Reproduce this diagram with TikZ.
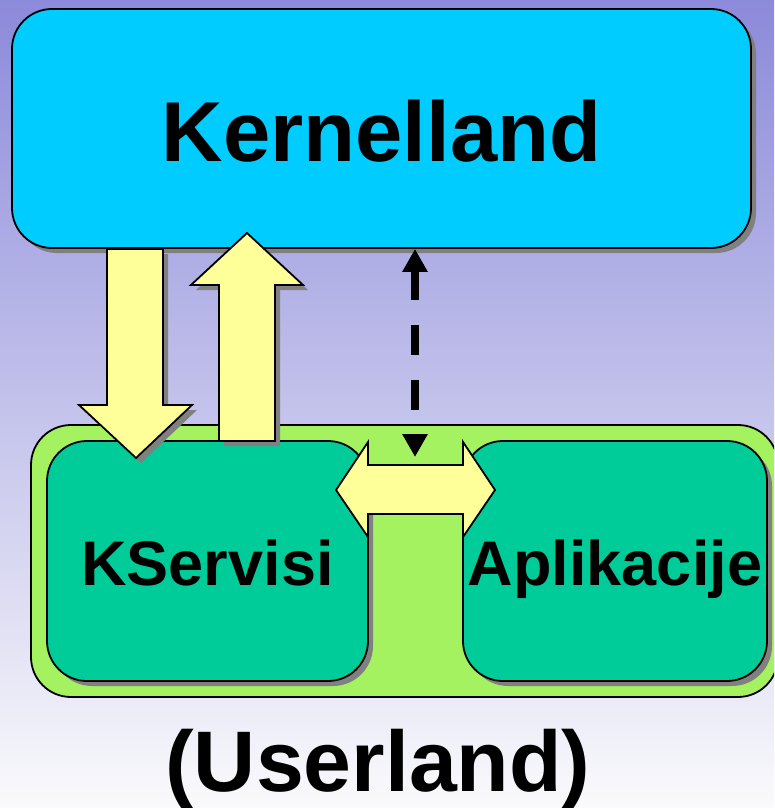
\documentclass[tikz,border=0pt]{standalone}
\usepackage{fontspec}
\setmainfont{Liberation Sans}
\usetikzlibrary{shadows,arrows.meta}

\definecolor{bgtop}{RGB}{140,138,218}
\definecolor{bgmid}{RGB}{214,213,240}
\definecolor{bgbot}{RGB}{250,250,252}
\definecolor{kernelblue}{HTML}{00CCFF}
\definecolor{userlime}{RGB}{164,242,96}
\definecolor{servgreen}{HTML}{00CC99}
\definecolor{paleyellow}{HTML}{FFFF99}

\begin{document}
\begin{tikzpicture}[x=1pt,y=-1pt,
    box/.style={draw,line width=1.8pt,rounded corners=40pt,inner sep=0pt,text depth=0pt},
    shadowed/.style={drop shadow={shadow xshift=5pt,shadow yshift=-5pt,fill=black!50,opacity=1}},
    blockarrow/.style={draw,line width=1.8pt,fill=paleyellow,line join=miter}]
    \useasboundingbox (0,0) rectangle (774,808);
    \clip (0,0) rectangle (774,808);
    \shade[top color=bgtop,middle color=bgmid,bottom color=bgbot](0,0) rectangle (774,808);

    % boxes
    \node[box,fill=userlime,minimum width=747pt,minimum height=272pt](userland) at (404.5,561){};
    \node[box,shadowed,fill=kernelblue,minimum width=739pt,minimum height=239pt,text height=66pt,
        font=\bfseries\fontsize{85}{85}\selectfont](kernel) at (381.5,128.5){Kernelland};
    \node[box,shadowed,fill=servgreen,minimum width=321pt,minimum height=240pt,text height=48pt,
        font=\bfseries\fontsize{63}{63}\selectfont](kservisi) at (207.5,561){KServisi};
    \node[box,shadowed,fill=servgreen,minimum width=304pt,minimum height=240pt,text height=48pt,
        font=\bfseries\fontsize{63}{63}\selectfont](aplikacije) at (615,561){Aplikacije};

    % block arrows
    \draw[blockarrow,shadowed](107,249)--(163,249)--(163,405)--(192,405)--(136,458)--(79,405)--(107,405)--cycle;
    \draw[blockarrow,shadowed](247,233)--(303,285)--(275,285)--(275,441)--(219,441)--(219,285)--(191,285)--cycle;
    \draw[blockarrow](336,490)--(368,442)--(368,465)--(463,465)--(463,442)--(495,490)--(463,537)--(463,514)--(368,514)--(368,537)--cycle;

    \coordinate (dashtip) at (415,457);
    \draw[line width=8pt,dash pattern=on 30pt off 25pt,
        {Triangle[width=24pt,length=23pt]}-{Triangle[width=24pt,length=23pt]}](kernel.south -| dashtip)--(dashtip);

    \node[anchor=base,font=\bfseries\fontsize{86}{86}\selectfont](userlabel) at (378,791){(Userland)};
\end{tikzpicture}
\end{document}
